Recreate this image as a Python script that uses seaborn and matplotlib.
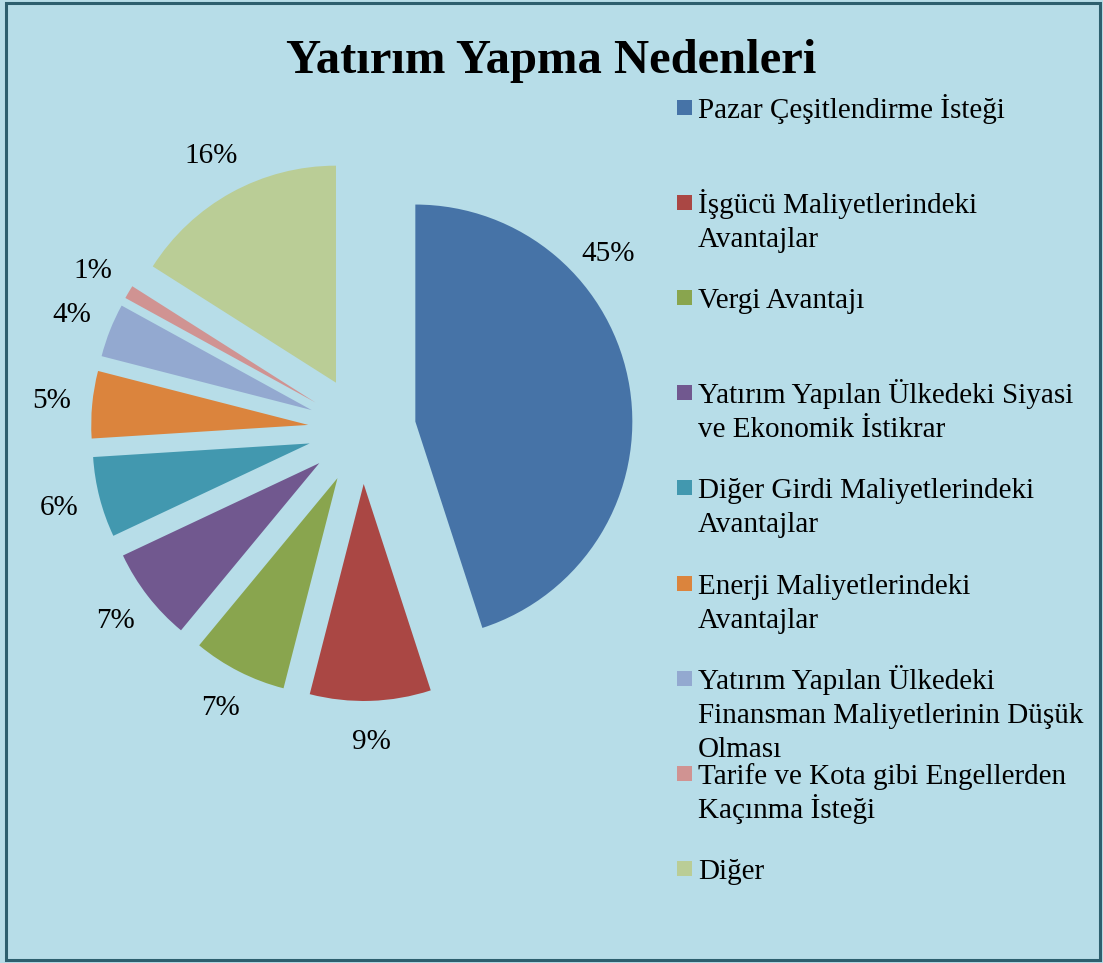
import matplotlib
matplotlib.use("Agg")
import matplotlib.pyplot as plt
import matplotlib.patches as mpatches
import seaborn as sns
import numpy as np

# data
categories = [
    "Pazar Çeşitlendirme İsteği",
    "İşgücü Maliyetlerindeki\nAvantajlar",
    "Vergi Avantajı",
    "Yatırım Yapılan Ülkedeki Siyasi\nve Ekonomik İstikrar",
    "Diğer Girdi Maliyetlerindeki\nAvantajlar",
    "Enerji Maliyetlerindeki\nAvantajlar",
    "Yatırım Yapılan Ülkedeki\nFinansman Maliyetlerinin Düşük\nOlması",
    "Tarife ve Kota gibi Engellerden\nKaçınma İsteği",
    "Diğer",
]
shares = [45, 9, 7, 7, 6, 5, 4, 1, 16]
colors = ["#4673A7", "#AA4744", "#89A54E", "#71588F", "#4298AF",
          "#DB843D", "#93A9D0", "#D09392", "#BACD96"]
title = "Yatırım Yapma Nedenleri"

# style
sns.set_style("white")
plt.rcParams['font.family'] = ['Liberation Serif', 'DejaVu Serif']
plt.rcParams['text.color'] = 'black'

W, H = 1103, 963
bg = "#B7DDE8"
fig = plt.figure(figsize=(W / 100, H / 100), dpi=100, facecolor=bg)
ax = fig.add_axes([0, 0, 1, 1])
ax.set_facecolor(bg)

R = 217
wedges, _, pct_texts = ax.pie(
    shares, colors=colors, startangle=90, counterclock=False,
    explode=[54] * len(shares), center=(362, H - 430), radius=R,
    autopct=lambda p: f"{p:.0f}%", pctdistance=1.19,
    wedgeprops=dict(linewidth=0),
    textprops=dict(fontsize=21, color="black"),
)

# the big slice label sits higher, as in the original chart
cx, cy = wedges[0].center
ang = np.deg2rad(41)
pct_texts[0].set_position((cx + 1.18 * R * np.cos(ang), cy + 1.18 * R * np.sin(ang)))

ax.set_xlim(0, W)
ax.set_ylim(0, H)
ax.set_aspect("equal")
ax.axis("off")

# title
fig.text(0.5, 1 - 73 / H, title, ha="center", va="baseline",
         fontsize=35, fontweight="bold", color="black")

# legend, one entry every 95 px, 34 px per text line
for i, (lab, col) in enumerate(zip(categories, colors)):
    base = 118 + 95.1 * i
    fig.patches.append(mpatches.Rectangle(
        (677 / W, 1 - (base - 3) / H), 15 / W, 15 / H,
        transform=fig.transFigure, facecolor=col, edgecolor="none"))
    for j, line in enumerate(lab.split("\n")):
        fig.text(698 / W, 1 - (base + 34 * j) / H, line, ha="left",
                 va="baseline", fontsize=21, color="black")

# frame
fig.patches.append(mpatches.Rectangle(
    (6 / W, 3 / H), 1094 / W, 957 / H, transform=fig.transFigure,
    facecolor="none", edgecolor="#2D5F6E", linewidth=2.2))

fig.savefig("out.png", dpi=100, facecolor=bg)
